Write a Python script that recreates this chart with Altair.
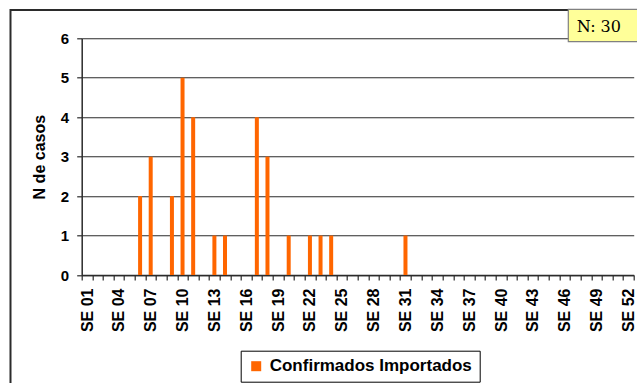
import altair as alt
import pandas as pd

# ---- data ----
weeks = ["SE %02d" % i for i in range(1, 53)]
casos = [0, 0, 0, 0, 0, 2, 3, 0, 2, 5,
         4, 0, 1, 1, 0, 0, 4, 3, 0, 1,
         0, 1, 1, 1, 0, 0, 0, 0, 0, 0,
         1, 0, 0, 0, 0, 0, 0, 0, 0, 0,
         0, 0, 0, 0, 0, 0, 0, 0, 0, 0,
         0, 0]
serie = "Confirmados Importados"
total_label = "N: 30"
y_ticks = [0, 1, 2, 3, 4, 5, 6]

df = pd.DataFrame({"semana": weeks, "casos": casos, "serie": serie})

ORANGE = "#FF6600"
DARK = "#2b2b2b"
FONT = "Liberation Sans"

W, H = 552, 236.7
PAD_L, PAD_T = 81.7, 38.3

x_enc = alt.X(
    "semana:O",
    sort=weeks,
    scale=alt.Scale(domain=weeks, paddingInner=0, paddingOuter=0),
    axis=alt.Axis(
        title=None,
        labelAngle=-90,
        labelAlign="right",
        labelBaseline="middle",
        labelFont=FONT,
        labelFontSize=16,
        labelFontWeight="bold",
        labelColor="black",
        labelPadding=8,
        labelOverlap=False,
        labelExpr="(toNumber(substring(datum.value, 3)) - 1) % 3 == 0 ? datum.value : ''",
        tickBand="extent",
        tickSize=5,
        tickColor=DARK,
        tickWidth=1.2,
        domainColor=DARK,
        domainWidth=1.5,
        grid=False,
    ),
)

y_enc = alt.Y(
    "casos:Q",
    scale=alt.Scale(domain=[0, 6], nice=False),
    axis=alt.Axis(
        title="N de casos",
        values=y_ticks,
        labelFont=FONT,
        labelFontSize=15,
        labelFontWeight="bold",
        labelColor="black",
        labelPadding=8,
        tickSize=5,
        tickColor=DARK,
        tickWidth=1.2,
        domainColor=DARK,
        domainWidth=1.5,
        grid=True,
        gridColor=DARK,
        gridWidth=1.1,
        titleFont=FONT,
        titleFontSize=16,
        titleFontWeight="bold",
        titleColor="black",
        titleAngle=270,
        titleX=-37,
        titleY=H / 2,
        titleAlign="center",
        titleBaseline="alphabetic",
    ),
)

bars = alt.Chart(df).mark_bar(size=4).encode(
    x=x_enc,
    y=y_enc,
    color=alt.Color(
        "serie:N",
        scale=alt.Scale(domain=[serie], range=[ORANGE]),
        legend=alt.Legend(
            title=None,
            orient="none",
            legendX=159,
            legendY=312.4,
            direction="horizontal",
            strokeColor="black",
            fillColor="white",
            padding=7,
            symbolType="square",
            symbolSize=100,
            symbolStrokeWidth=0,
            labelFont=FONT,
            labelFontSize=17,
            labelFontWeight="bold",
            labelColor="black",
            labelOffset=5,
            labelLimit=0,
        ),
    ),
)

one = pd.DataFrame({"k": [0]})

# outer chart frame (decoration)
frame = alt.Chart(one).mark_rect(
    fillOpacity=0, stroke=DARK, strokeWidth=2
).encode(
    x=alt.value(10.5 - PAD_L),
    x2=alt.value(W + 100),
    y=alt.value(10 - PAD_T),
    y2=alt.value(H + 200),
)

# N: 30 annotation box
nbox = alt.Chart(one).mark_rect(
    fill="#FFFF99", stroke="#808080", strokeWidth=1.2
).encode(
    x=alt.value(568.3 - PAD_L),
    x2=alt.value(W + 100),
    y=alt.value(9.3 - PAD_T),
    y2=alt.value(41.7 - PAD_T),
)

ntext = alt.Chart(pd.DataFrame({"t": [total_label]})).mark_text(
    font="DejaVu Serif", fontSize=16, align="left", baseline="alphabetic", color="black"
).encode(
    x=alt.value(576.7 - PAD_L),
    y=alt.value(32.3 - PAD_T),
    text="t:N",
)

chart = alt.layer(frame, bars, nbox, ntext).properties(
    width=W,
    height=H,
    autosize=alt.AutoSizeParams(type="none"),
    padding={"left": PAD_L, "top": PAD_T, "right": 637 - PAD_L - W, "bottom": 383 - PAD_T - H},
    background="white",
).configure_view(stroke=None)

chart.save("out.html", embed_options={"renderer": "svg", "actions": False})
